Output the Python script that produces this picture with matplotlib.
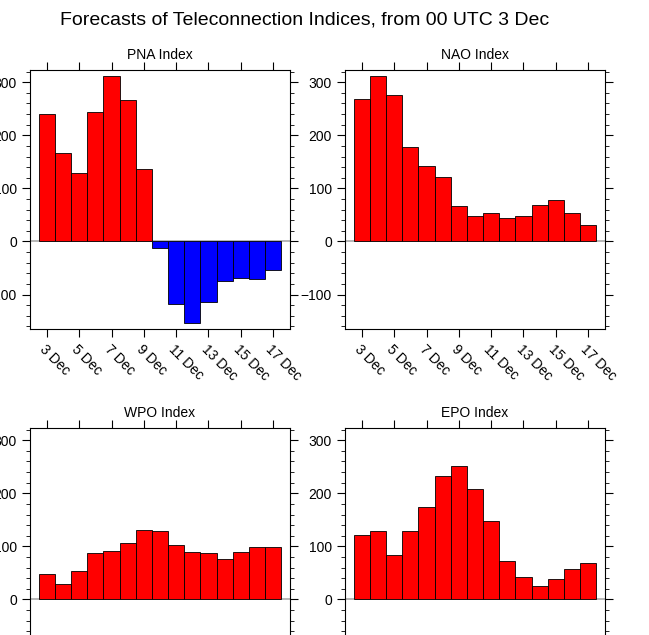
import matplotlib
matplotlib.use("Agg")
import matplotlib.pyplot as plt
from matplotlib.ticker import MultipleLocator

plt.rcParams['font.family'] = ['Liberation Sans', 'DejaVu Sans']

days = list(range(3, 18))
pna = [240, 167, 129, 243, 312, 267, 136, -13, -117, -154, -115, -74, -68, -71, -53]
nao = [268, 311, 276, 178, 143, 121, 66, 47, 54, 45, 47, 68, 79, 53, 31]
wpo = [47, 30, 53, 87, 92, 107, 130, 128, 102, 89, 87, 77, 89, 98, 98]
epo = [121, 128, 83, 128, 174, 232, 251, 209, 147, 72, 42, 26, 38, 58, 68]

W, H = 649, 635
fig = plt.figure(figsize=(W / 100, H / 100), dpi=100)
fig.text(305 / W, 1 - 20 / H, "Forecasts of Teleconnection Indices, from 00 UTC 3 Dec",
         ha='center', va='center', fontsize=14)

panels = [("PNA Index", pna, 30, 70), ("NAO Index", nao, 345, 70),
          ("WPO Index", wpo, 30, 428), ("EPO Index", epo, 345, 428)]

for name, vals, px, py in panels:
    ax = fig.add_axes([px / W, 1 - (py + 259) / H, 260 / W, 259 / H])
    cols = ['red' if v >= 0 else 'blue' for v in vals]
    ax.bar(days, vals, width=1.0, color=cols, edgecolor='black', linewidth=0.6, zorder=2)
    ax.axhline(0, color='#aaaaaa', linewidth=1.2, zorder=1)
    ax.set_xlim(1.95, 18.05)
    ax.set_ylim(-165, 323)
    ax.set_xticks(days[::2])
    ax.set_xticklabels([f"{d} Dec" for d in days[::2]], rotation=-45,
                       ha='left', va='top', rotation_mode='anchor', fontsize=10)
    ax.yaxis.set_major_locator(MultipleLocator(100))
    ax.yaxis.set_minor_locator(MultipleLocator(20))
    ax.tick_params(axis='both', which='major', direction='out', length=6,
                   labelsize=10, top=True, right=True, width=0.8)
    ax.tick_params(axis='y', which='minor', direction='out', length=3,
                   right=True, width=0.6)
    for s in ax.spines.values():
        s.set_linewidth(0.8)
    ax.set_title(name, fontsize=10, pad=8)

fig.savefig("out.png", dpi=100)
